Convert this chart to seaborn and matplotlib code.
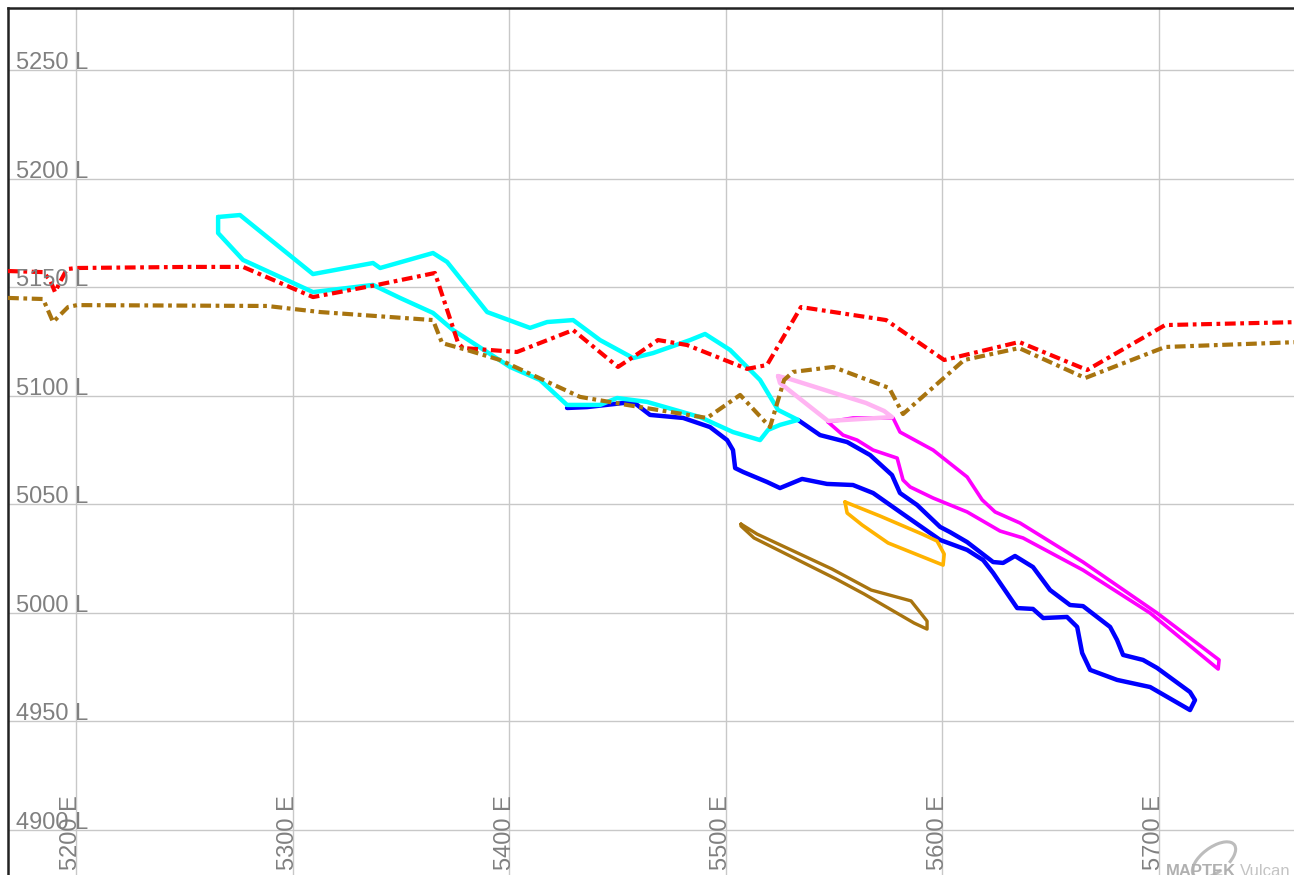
import matplotlib
matplotlib.use("Agg")
import matplotlib.pyplot as plt
from matplotlib.patches import Arc
import seaborn as sns

# section view, easting (E) vs level (L)
east_ticks = [5200, 5300, 5400, 5500, 5600, 5700]
level_ticks = [4900, 4950, 5000, 5050, 5100, 5150, 5200, 5250]
east_labels = ['5200 E', '5300 E', '5400 E', '5500 E', '5600 E', '5700 E']
level_labels = ['4900 L', '4950 L', '5000 L', '5050 L', '5100 L', '5150 L', '5200 L', '5250 L']

# red dash-dot surface
red_e = [5168.6, 5184.8, 5188.0, 5190.3, 5192.6, 5195.8, 5200.5, 5252.6, 5277.1, 5309.4,
         5339.0, 5365.7, 5376.4, 5378.7, 5403.6, 5429.5, 5450.2, 5457.2, 5468.7, 5482.1,
         5509.8, 5519.0, 5534.7, 5574.0, 5600.8, 5635.4, 5666.8, 5702.8, 5765.0]
red_l = [5157.5, 5157.0, 5153.4, 5147.8, 5152.4, 5158.4, 5158.9, 5159.4, 5159.4, 5145.5,
         5151.1, 5156.6, 5124.3, 5122.0, 5120.2, 5130.3, 5113.3, 5117.9, 5125.7, 5123.4,
         5112.4, 5114.2, 5140.9, 5134.9, 5116.5, 5124.8, 5111.9, 5132.6, 5134.0]

# ochre dash-dot surface
ochre_e = [5168.6, 5184.8, 5189.4, 5196.3, 5200.5, 5288.2, 5312.7, 5364.8, 5369.0, 5380.5,
           5395.8, 5432.7, 5454.4, 5491.3, 5506.6, 5520.4, 5526.9, 5531.0, 5549.5, 5575.4,
           5581.8, 5610.0, 5635.4, 5665.9, 5702.8, 5765.0]
ochre_l = [5145.1, 5144.6, 5134.0, 5140.9, 5141.8, 5141.4, 5138.6, 5134.9, 5124.3, 5121.1,
           5116.5, 5099.5, 5095.8, 5089.8, 5100.4, 5085.6, 5107.3, 5111.0, 5113.3, 5103.6,
           5091.6, 5116.5, 5122.0, 5108.2, 5122.5, 5124.8]

# cyan outline
cyan_e = [5265.6, 5275.7, 5309.4, 5337.1, 5340.4, 5364.8, 5371.3, 5389.8, 5409.6, 5417.5,
          5429.5, 5441.9, 5457.2, 5466.4, 5483.5, 5490.4, 5502.0, 5515.8, 5524.1, 5533.3,
          5525.0, 5519.5, 5515.8, 5503.3, 5488.1, 5463.6, 5449.8, 5441.9, 5426.7, 5414.2,
          5400.4, 5374.1, 5364.8, 5349.6, 5337.1, 5309.4, 5277.1, 5265.6]
cyan_l = [5182.4, 5183.3, 5156.1, 5161.2, 5158.9, 5165.8, 5161.7, 5138.6, 5131.3, 5134.0,
          5134.9, 5125.7, 5117.4, 5119.7, 5125.7, 5128.5, 5121.1, 5107.3, 5093.5, 5088.9,
          5086.6, 5084.3, 5079.6, 5083.3, 5090.2, 5097.2, 5099.0, 5095.8, 5095.8, 5107.3,
          5113.3, 5130.3, 5138.2, 5145.1, 5151.1, 5147.8, 5162.6, 5175.0]

# blue outline
blue_e = [5426.7, 5435.9, 5457.2, 5465.0, 5480.3, 5492.7, 5500.6, 5503.3, 5504.3, 5508.0,
          5519.0, 5525.0, 5535.2, 5546.7, 5558.7, 5568.0, 5580.4, 5598.9, 5611.4, 5618.8,
          5623.4, 5634.5, 5641.8, 5646.5, 5657.5, 5662.2, 5664.5, 5668.2, 5680.6, 5695.9,
          5714.3, 5716.6, 5714.3, 5699.1, 5692.6, 5683.4, 5680.6, 5677.4, 5664.9, 5658.9,
          5649.7, 5641.8, 5633.5, 5628.0, 5623.4, 5611.4, 5603.5, 5598.9, 5588.3, 5580.4,
          5576.7, 5566.6, 5556.0, 5543.5, 5533.3]
blue_l = [5094.4, 5094.8, 5097.2, 5091.2, 5089.8, 5085.6, 5079.6, 5075.0, 5066.7, 5064.9,
          5060.3, 5057.5, 5061.7, 5059.4, 5058.9, 5055.2, 5046.5, 5033.6, 5029.0, 5024.3,
          5018.4, 5002.2, 5001.8, 4997.6, 4998.1, 4993.5, 4981.5, 4973.7, 4969.1, 4965.8,
          4955.2, 4959.8, 4963.5, 4974.6, 4978.3, 4980.6, 4987.5, 4993.5, 5003.1, 5003.6,
          5010.5, 5021.1, 5026.2, 5023.0, 5023.4, 5032.6, 5037.2, 5039.6, 5049.7, 5055.2,
          5063.5, 5072.7, 5078.7, 5081.9, 5088.9]

# magenta outline
magenta_e = [5547.2, 5554.1, 5560.6, 5568.0, 5579.1, 5581.8, 5585.1, 5595.7, 5611.4, 5626.6,
             5637.2, 5664.9, 5695.9, 5727.3, 5727.7, 5699.1, 5664.9, 5635.8, 5624.3, 5618.3,
             5611.4, 5595.7, 5580.4, 5577.2, 5558.7]
magenta_l = [5087.9, 5081.9, 5079.6, 5075.0, 5071.3, 5061.2, 5058.0, 5052.9, 5046.5, 5037.7,
             5034.5, 5019.7, 4999.9, 4974.1, 4978.3, 4999.9, 5023.4, 5041.4, 5046.5, 5052.1,
             5062.6, 5075.0, 5083.3, 5089.8, 5089.8]

# light pink outline
pink_e = [5524.1, 5525.0, 5547.2, 5576.7, 5573.1, 5564.7, 5529.7]
pink_l = [5109.1, 5105.9, 5088.4, 5090.2, 5093.0, 5096.7, 5107.7]

# orange outline
orange_e = [5555.0, 5556.0, 5562.9, 5574.9, 5600.3, 5600.8, 5597.5, 5590.6, 5571.2]
orange_l = [5051.1, 5046.0, 5040.5, 5032.2, 5022.0, 5027.1, 5033.1, 5036.3, 5044.6]

# ochre solid outline
lens_e = [5507.0, 5514.4, 5549.0, 5567.1, 5585.5, 5592.9, 5592.9, 5586.9, 5563.8, 5550.9,
          5513.0, 5507.0]
lens_l = [5040.9, 5036.3, 5020.2, 5010.5, 5005.5, 4996.2, 4992.5, 4995.3, 5008.7, 5015.6,
          5034.5, 5040.0]

sns.set_style('white')
plt.rcParams['font.family'] = ['Liberation Sans', 'DejaVu Sans']

W, H = 1294, 875
fig = plt.figure(figsize=(W / 100, H / 100), dpi=100)
ax = fig.add_axes([8 / W, 0, 1 - 8 / W, 1 - 8 / H])
ax.set_xlim(5168.6, 5762.3)
ax.set_ylim(4879.2, 5278.7)

ax.set_xticks(east_ticks)
ax.set_yticks(level_ticks)
ax.grid(True, color='#c8c8c8', linewidth=1.0)
ax.set_axisbelow(True)
ax.tick_params(length=0, labelbottom=False, labelleft=False)
ax.set_xlabel('')
ax.set_ylabel('')
for side in ['right', 'bottom']:
    ax.spines[side].set_visible(False)
for side in ['left', 'top']:
    ax.spines[side].set_color('#222222')
    ax.spines[side].set_linewidth(1.8)


def trace(xs, ys, color, lw, closed=True, ls='-', z=2):
    if closed:
        xs = list(xs) + [xs[0]]
        ys = list(ys) + [ys[0]]
    sns.lineplot(x=xs, y=ys, sort=False, estimator=None, color=color,
                 linewidth=lw, linestyle=ls, ax=ax, zorder=z)


dashdot = (0, (2.6, 1.1, 0.9, 1.1))

trace(blue_e, blue_l, '#0000ff', 3.2, closed=False, z=2.0)
trace(magenta_e, magenta_l, '#ff00ff', 2.6, z=2.1)
trace(pink_e, pink_l, '#ffb4f2', 3.2, z=2.2)
trace(orange_e, orange_l, '#ffb300', 2.6, z=2.2)
trace(lens_e, lens_l, '#a8740f', 2.4, z=2.2)
trace(cyan_e, cyan_l, '#00ffff', 3.2, z=2.4)
trace(red_e, red_l, '#ff0000', 3.0, closed=False, ls=dashdot, z=3.0)
trace(ochre_e, ochre_l, '#a8740f', 3.0, closed=False, ls=dashdot, z=3.1)

label_color = '#808080'
for lv, txt in zip(level_ticks, level_labels):
    ax.text(5172.3, lv + 0.4, txt, color=label_color, fontsize=17,
            ha='left', va='baseline', zorder=5)
for ev, txt in zip(east_ticks, east_labels):
    ax.text(ev + 0.6, 4881.5, txt, color=label_color, fontsize=17, rotation=90,
            rotation_mode='anchor', ha='left', va='baseline', zorder=5)

# watermark, partly cut off at the lower edge as in the screenshot
fig.patches.append(Arc((1214 / W, 1 - 860 / H), 30 / W, 42 / H, angle=-35,
                       theta1=20, theta2=330, color='#bcbcbc', lw=2.2,
                       transform=fig.transFigure))
fig.text(1166 / W, 1 - 864 / H, 'MAPTEK', color='#b0b0b0', fontsize=12,
         fontweight='bold', ha='left', va='top')
fig.text(1240 / W, 1 - 864 / H, 'Vulcan', color='#c4c4c4', fontsize=12,
         ha='left', va='top')

fig.savefig('out.png', dpi=100)
